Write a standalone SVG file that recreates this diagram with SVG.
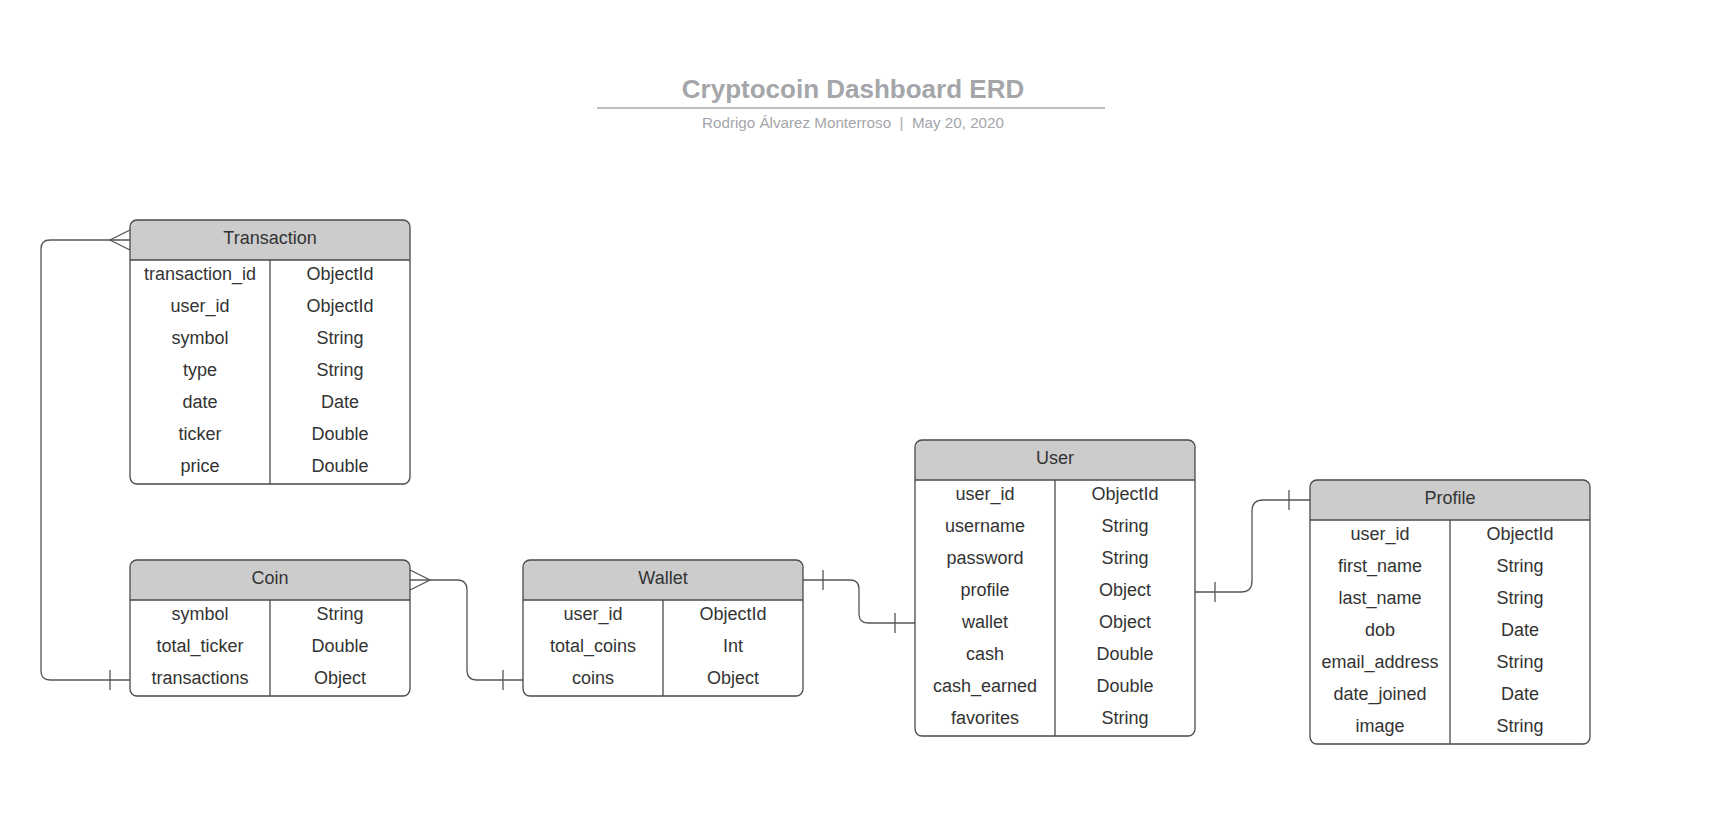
<svg xmlns="http://www.w3.org/2000/svg" width="1730" height="832" viewBox="0 0 1730 832">
<style>
  .bg{fill:#ffffff}
  .box{fill:none;stroke:#4a4a4a;stroke-width:1.3}
  .hdr{fill:#cccccc}
  .ln{stroke:#4a4a4a;stroke-width:1.3;fill:none}
  .t{font-family:"Liberation Sans",Arial,sans-serif;font-size:18px;fill:#333333;text-anchor:middle}
  .con{fill:none;stroke:#555555;stroke-width:1.3}
  .title{font-family:"Liberation Sans",Arial,sans-serif;font-size:26px;font-weight:bold;fill:#a4a6aa;text-anchor:middle}
  .sub{font-family:"Liberation Sans",Arial,sans-serif;font-size:15.2px;fill:#a4a6aa;text-anchor:middle}
</style>

<g id="title">
  <text class="title" x="853" y="97.5">Cryptocoin Dashboard ERD</text>
  <line x1="597" y1="108" x2="1105" y2="108" stroke="#a8a8a8" stroke-width="1.5"/>
  <text class="sub" x="853" y="128" xml:space="preserve">Rodrigo Álvarez Monterroso  |  May 20, 2020</text>
</g>

<g id="connectors">
  <!-- Coin.transactions to Transaction -->
  <path class="con" d="M130,680 H50 Q41,680 41,671 V249 Q41,240 50,240 H130"/>
  <path class="con" d="M130,230 L110,240 L130,250"/>
  <line class="con" x1="110" y1="670" x2="110" y2="690"/>
  <!-- Wallet.coins to Coin -->
  <path class="con" d="M410,580 H457 Q467,580 467,590 V670 Q467,680 477,680 H523"/>
  <path class="con" d="M410,570 L430,580 L410,590"/>
  <line class="con" x1="503" y1="670" x2="503" y2="690"/>
  <!-- Wallet to User.wallet -->
  <path class="con" d="M803,580 H850 Q859,580 859,589 V614 Q859,623 868,623 H915"/>
  <line class="con" x1="823" y1="570" x2="823" y2="590"/>
  <line class="con" x1="895" y1="613" x2="895" y2="633"/>
  <!-- User.profile to Profile -->
  <path class="con" d="M1195,592 H1241 Q1252,592 1252,581 V511 Q1252,500 1263,500 H1310"/>
  <line class="con" x1="1215" y1="582" x2="1215" y2="602"/>
  <line class="con" x1="1289" y1="490" x2="1289" y2="510"/>
</g>

<g id="Transaction">
  <rect class="bg" x="130" y="220" width="280" height="264" rx="7"/>
  <path class="hdr" d="M130,260 V227 A7,7 0 0 1 137,220 H403 A7,7 0 0 1 410,227 V260 Z"/>
  <line class="ln" x1="130" y1="260" x2="410" y2="260"/>
  <line class="ln" x1="270" y1="260" x2="270" y2="484"/>
  <rect class="box" x="130" y="220" width="280" height="264" rx="7"/>
  <text class="t" x="270" y="244">Transaction</text>
  <text class="t" x="200" y="280">transaction_id</text><text class="t" x="340" y="280">ObjectId</text>
  <text class="t" x="200" y="312">user_id</text><text class="t" x="340" y="312">ObjectId</text>
  <text class="t" x="200" y="344">symbol</text><text class="t" x="340" y="344">String</text>
  <text class="t" x="200" y="376">type</text><text class="t" x="340" y="376">String</text>
  <text class="t" x="200" y="408">date</text><text class="t" x="340" y="408">Date</text>
  <text class="t" x="200" y="440">ticker</text><text class="t" x="340" y="440">Double</text>
  <text class="t" x="200" y="472">price</text><text class="t" x="340" y="472">Double</text>
</g>

<g id="Coin">
  <rect class="bg" x="130" y="560" width="280" height="136" rx="7"/>
  <path class="hdr" d="M130,600 V567 A7,7 0 0 1 137,560 H403 A7,7 0 0 1 410,567 V600 Z"/>
  <line class="ln" x1="130" y1="600" x2="410" y2="600"/>
  <line class="ln" x1="270" y1="600" x2="270" y2="696"/>
  <rect class="box" x="130" y="560" width="280" height="136" rx="7"/>
  <text class="t" x="270" y="584">Coin</text>
  <text class="t" x="200" y="620">symbol</text><text class="t" x="340" y="620">String</text>
  <text class="t" x="200" y="652">total_ticker</text><text class="t" x="340" y="652">Double</text>
  <text class="t" x="200" y="684">transactions</text><text class="t" x="340" y="684">Object</text>
</g>

<g id="Wallet">
  <rect class="bg" x="523" y="560" width="280" height="136" rx="7"/>
  <path class="hdr" d="M523,600 V567 A7,7 0 0 1 530,560 H796 A7,7 0 0 1 803,567 V600 Z"/>
  <line class="ln" x1="523" y1="600" x2="803" y2="600"/>
  <line class="ln" x1="663" y1="600" x2="663" y2="696"/>
  <rect class="box" x="523" y="560" width="280" height="136" rx="7"/>
  <text class="t" x="663" y="584">Wallet</text>
  <text class="t" x="593" y="620">user_id</text><text class="t" x="733" y="620">ObjectId</text>
  <text class="t" x="593" y="652">total_coins</text><text class="t" x="733" y="652">Int</text>
  <text class="t" x="593" y="684">coins</text><text class="t" x="733" y="684">Object</text>
</g>

<g id="User">
  <rect class="bg" x="915" y="440" width="280" height="296" rx="7"/>
  <path class="hdr" d="M915,480 V447 A7,7 0 0 1 922,440 H1188 A7,7 0 0 1 1195,447 V480 Z"/>
  <line class="ln" x1="915" y1="480" x2="1195" y2="480"/>
  <line class="ln" x1="1055" y1="480" x2="1055" y2="736"/>
  <rect class="box" x="915" y="440" width="280" height="296" rx="7"/>
  <text class="t" x="1055" y="464">User</text>
  <text class="t" x="985" y="500">user_id</text><text class="t" x="1125" y="500">ObjectId</text>
  <text class="t" x="985" y="532">username</text><text class="t" x="1125" y="532">String</text>
  <text class="t" x="985" y="564">password</text><text class="t" x="1125" y="564">String</text>
  <text class="t" x="985" y="596">profile</text><text class="t" x="1125" y="596">Object</text>
  <text class="t" x="985" y="628">wallet</text><text class="t" x="1125" y="628">Object</text>
  <text class="t" x="985" y="660">cash</text><text class="t" x="1125" y="660">Double</text>
  <text class="t" x="985" y="692">cash_earned</text><text class="t" x="1125" y="692">Double</text>
  <text class="t" x="985" y="724">favorites</text><text class="t" x="1125" y="724">String</text>
</g>

<g id="Profile">
  <rect class="bg" x="1310" y="480" width="280" height="264" rx="7"/>
  <path class="hdr" d="M1310,520 V487 A7,7 0 0 1 1317,480 H1583 A7,7 0 0 1 1590,487 V520 Z"/>
  <line class="ln" x1="1310" y1="520" x2="1590" y2="520"/>
  <line class="ln" x1="1450" y1="520" x2="1450" y2="744"/>
  <rect class="box" x="1310" y="480" width="280" height="264" rx="7"/>
  <text class="t" x="1450" y="504">Profile</text>
  <text class="t" x="1380" y="540">user_id</text><text class="t" x="1520" y="540">ObjectId</text>
  <text class="t" x="1380" y="572">first_name</text><text class="t" x="1520" y="572">String</text>
  <text class="t" x="1380" y="604">last_name</text><text class="t" x="1520" y="604">String</text>
  <text class="t" x="1380" y="636">dob</text><text class="t" x="1520" y="636">Date</text>
  <text class="t" x="1380" y="668">email_address</text><text class="t" x="1520" y="668">String</text>
  <text class="t" x="1380" y="700">date_joined</text><text class="t" x="1520" y="700">Date</text>
  <text class="t" x="1380" y="732">image</text><text class="t" x="1520" y="732">String</text>
</g>
</svg>
